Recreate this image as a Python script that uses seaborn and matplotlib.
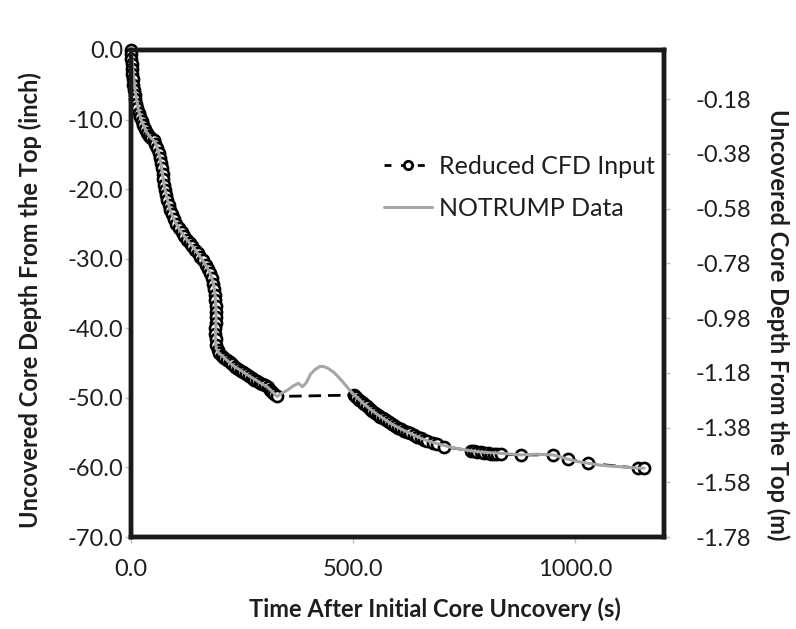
import matplotlib
matplotlib.use("Agg")
import matplotlib.pyplot as plt
import seaborn as sns
import pandas as pd
from matplotlib.lines import Line2D

# ---------------- data ----------------
notrump_t = [0, 2, 4, 6, 9, 13, 17, 22, 28, 35, 43, 50, 57, 65, 70, 75, 82, 88, 95, 103,
             110, 120, 130, 140, 150, 160, 171, 180, 185, 189, 191, 191.5, 191, 190, 190,
             192, 198, 208, 223, 235, 246, 260, 275, 290, 306, 318, 329, 340, 352, 365,
             377, 386, 395, 404, 415, 425, 433, 442, 456, 467, 478, 490, 498, 510, 525,
             540, 555, 569, 585, 600, 615, 629, 645, 660, 680, 697, 720, 745, 765, 790,
             815, 840, 877, 910, 950, 983, 1010, 1029, 1060, 1100, 1141, 1155]
notrump_d = [0, -1.0, -2.5, -4.0, -5.8, -7.2, -8.7, -9.9, -10.8, -11.8, -12.5, -12.9, -13.6,
             -15.4, -17.4, -19.6, -21.5, -23.0, -24.1, -25.1, -25.9, -26.8, -27.6, -28.3,
             -29.2, -30.1, -31.2, -32.4, -33.5, -35.0, -36.9, -38.5, -40.0, -41.0, -41.8,
             -42.9, -43.6, -44.1, -45.0, -45.6, -46.0, -46.6, -47.2, -47.8, -48.4, -49.1,
             -49.8, -49.3, -48.9, -48.3, -47.9, -48.4, -47.8, -46.6, -45.9, -45.5, -45.5,
             -45.7, -46.3, -47.0, -47.8, -48.7, -49.3, -50.0, -50.9, -51.7, -52.4, -53.0,
             -53.7, -54.2, -54.7, -55.1, -55.6, -56.0, -56.4, -56.7, -57.1, -57.4, -57.6,
             -57.8, -57.9, -58.0, -58.2, -58.1, -58.2, -58.8, -59.2, -59.4, -59.7, -59.9,
             -60.1, -60.1]

cfd_t = [0, 0.5, 1, 2, 2.5, 3, 4, 5, 6, 8, 10, 12, 14, 17, 20, 24, 28, 32, 36, 41, 46, 51,
         55, 59, 62, 65, 67, 69, 71, 73, 75, 77, 79, 82, 85, 88, 92, 97, 102, 108, 114, 120,
         126, 132, 138, 144, 150, 156, 162, 168, 173, 178, 182, 185, 187, 189, 190, 191,
         191.5, 191, 190.5, 190, 190, 190.5, 192, 195, 199, 204, 210, 216, 222, 228, 235,
         241, 247, 253, 260, 266, 272, 278, 284, 290, 296, 302, 308, 313, 318, 323, 329,
         501, 507, 513, 519, 525, 531, 537, 543, 549, 555, 561, 567, 573, 580, 587, 594,
         601, 608, 615, 622, 629, 637, 645, 652, 659, 667, 679, 690, 704, 765, 772, 780,
         788, 795, 803, 810, 817, 825, 832, 877, 950, 983, 1029, 1141, 1155]
cfd_d = [0, -0.6, -1.3, -2.0, -2.8, -3.5, -4.2, -5.0, -5.7, -6.4, -7.0, -7.7, -8.4, -9.0,
         -9.6, -10.2, -10.8, -11.3, -11.9, -12.4, -12.7, -13.0, -13.5, -14.1, -14.8, -15.5,
         -16.3, -17.0, -17.8, -18.6, -19.4, -20.1, -20.8, -21.5, -22.3, -23.0, -23.6, -24.3,
         -25.0, -25.6, -26.2, -26.8, -27.3, -27.8, -28.2, -28.7, -29.2, -29.7, -30.2, -30.9,
         -31.5, -32.1, -32.8, -33.6, -34.4, -35.2, -36.0, -36.8, -37.6, -38.4, -39.2, -40.0,
         -40.8, -41.6, -42.4, -43.1, -43.6, -44.0, -44.3, -44.6, -44.9, -45.2, -45.6, -45.8,
         -46.1, -46.3, -46.6, -46.9, -47.1, -47.4, -47.6, -47.8, -48.0, -48.2, -48.5, -48.8,
         -49.1, -49.4, -49.8,
         -49.6, -49.9, -50.3, -50.6, -50.9, -51.2, -51.6, -51.9, -52.2, -52.4, -52.7, -52.9,
         -53.2, -53.5, -53.8, -54.0, -54.3, -54.5, -54.7, -54.9, -55.1, -55.4, -55.6, -55.8,
         -56.0, -56.2, -56.5, -56.7, -57.0, -57.6, -57.7, -57.8, -57.8, -57.9, -57.9, -58.0,
         -58.0, -58.1, -58.1, -58.2, -58.2, -58.8, -59.4, -60.1, -60.1]

x_ticks = [0, 500, 1000]
x_tick_labels = ["0.0", "500.0", "1000.0"]
y_ticks = [0, -10, -20, -30, -40, -50, -60, -70]
y_tick_labels = ["0.0", "-10.0", "-20.0", "-30.0", "-40.0", "-50.0", "-60.0", "-70.0"]
m_ticks = [-0.18, -0.38, -0.58, -0.78, -0.98, -1.18, -1.38, -1.58, -1.78]
m_tick_labels = ["-0.18", "-0.38", "-0.58", "-0.78", "-0.98", "-1.18", "-1.38", "-1.58", "-1.78"]

# ---------------- style ----------------
sns.set_theme(style="white")
plt.rcParams["font.family"] = ["Lato", "DejaVu Sans"]

FS = 17
TXT = "#1e1e1e"
fig = plt.figure(figsize=(7.96, 6.29), dpi=100)
ax = fig.add_axes([131 / 796, 1 - 537 / 629, (664 - 131) / 796, (537 - 50) / 629])

df_cfd = pd.DataFrame({"t": cfd_t, "d": cfd_d})
df_nt = pd.DataFrame({"t": notrump_t, "d": notrump_d})

sns.lineplot(data=df_cfd, x="t", y="d", sort=False, estimator=None, ax=ax,
             color="black", linewidth=2.0, dashes=False, linestyle=(0, (4.5, 2.5)),
             marker="o", markersize=8, markerfacecolor="white",
             markeredgecolor="black", markeredgewidth=1.9, zorder=3, clip_on=False)
sns.lineplot(data=df_nt, x="t", y="d", sort=False, estimator=None, ax=ax,
             color="#a6a6a6", linewidth=2.2, zorder=4, clip_on=False)

ax.set_xlim(0, 1200)
ax.set_ylim(-70, 0)
ax.set_xticks(x_ticks)
ax.set_xticklabels(x_tick_labels, fontsize=FS)
ax.set_yticks(y_ticks)
ax.set_yticklabels(y_tick_labels, fontsize=FS)
ax.tick_params(axis="x", which="major", direction="out", length=4, width=1,
               color="#bfbfbf", labelcolor=TXT, pad=12, bottom=True)
ax.tick_params(axis="y", which="major", direction="out", length=4, width=1,
               color="#bfbfbf", labelcolor=TXT, pad=1.5, left=True)
ax.set_xlabel("Time After Initial Core Uncovery (s)", fontsize=FS, fontweight="bold",
              color=TXT, va="center")
ax.xaxis.set_label_coords(0.57, -(609 - 537) / 487)
ax.set_ylabel("Uncovered Core Depth From the Top (inch)", fontsize=FS, fontweight="bold",
              color=TXT, va="center")
ax.yaxis.set_label_coords((30 - 131) / 533, (537 - 300) / 487)
for sp in ax.spines.values():
    sp.set_linewidth(3.2)
    sp.set_color("#1a1a1a")

ax2 = ax.twinx()
ax2.set_ylim(-1.78, 0)
ax2.set_yticks(m_ticks)
ax2.set_yticklabels(m_tick_labels, fontsize=FS)
ax2.tick_params(axis="y", direction="out", length=4, width=1, color="#bfbfbf",
                labelcolor=TXT, pad=19, right=True)
ax2.set_ylabel("Uncovered Core Depth From the Top (m)", fontsize=FS, fontweight="bold",
               rotation=-90, color=TXT)
ax2.yaxis.label.set_va("center")
ax2.yaxis.set_label_coords((778 - 131) / 533, (537 - 325) / 487)
for sp in ax2.spines.values():
    sp.set_linewidth(3.2)
    sp.set_color("#1a1a1a")

handles = [
    Line2D([], [], color="black", linewidth=2.0, linestyle=(0, (2.5, 3.5)), marker="o",
           markersize=6, markerfacecolor="white", markeredgecolor="black", markeredgewidth=2),
    Line2D([], [], color="#a6a6a6", linewidth=2.2),
]
leg = ax2.legend(handles, ["Reduced CFD Input", "NOTRUMP Data"], loc="upper right",
                 bbox_to_anchor=((655 - 131) / 533, (537 - 155) / 487), frameon=False,
                 fontsize=18, handlelength=1.9, handletextpad=0.3, labelspacing=0.75,
                 borderpad=0, borderaxespad=0)
for t in leg.get_texts():
    t.set_color(TXT)

fig.savefig("out.png", dpi=100)
